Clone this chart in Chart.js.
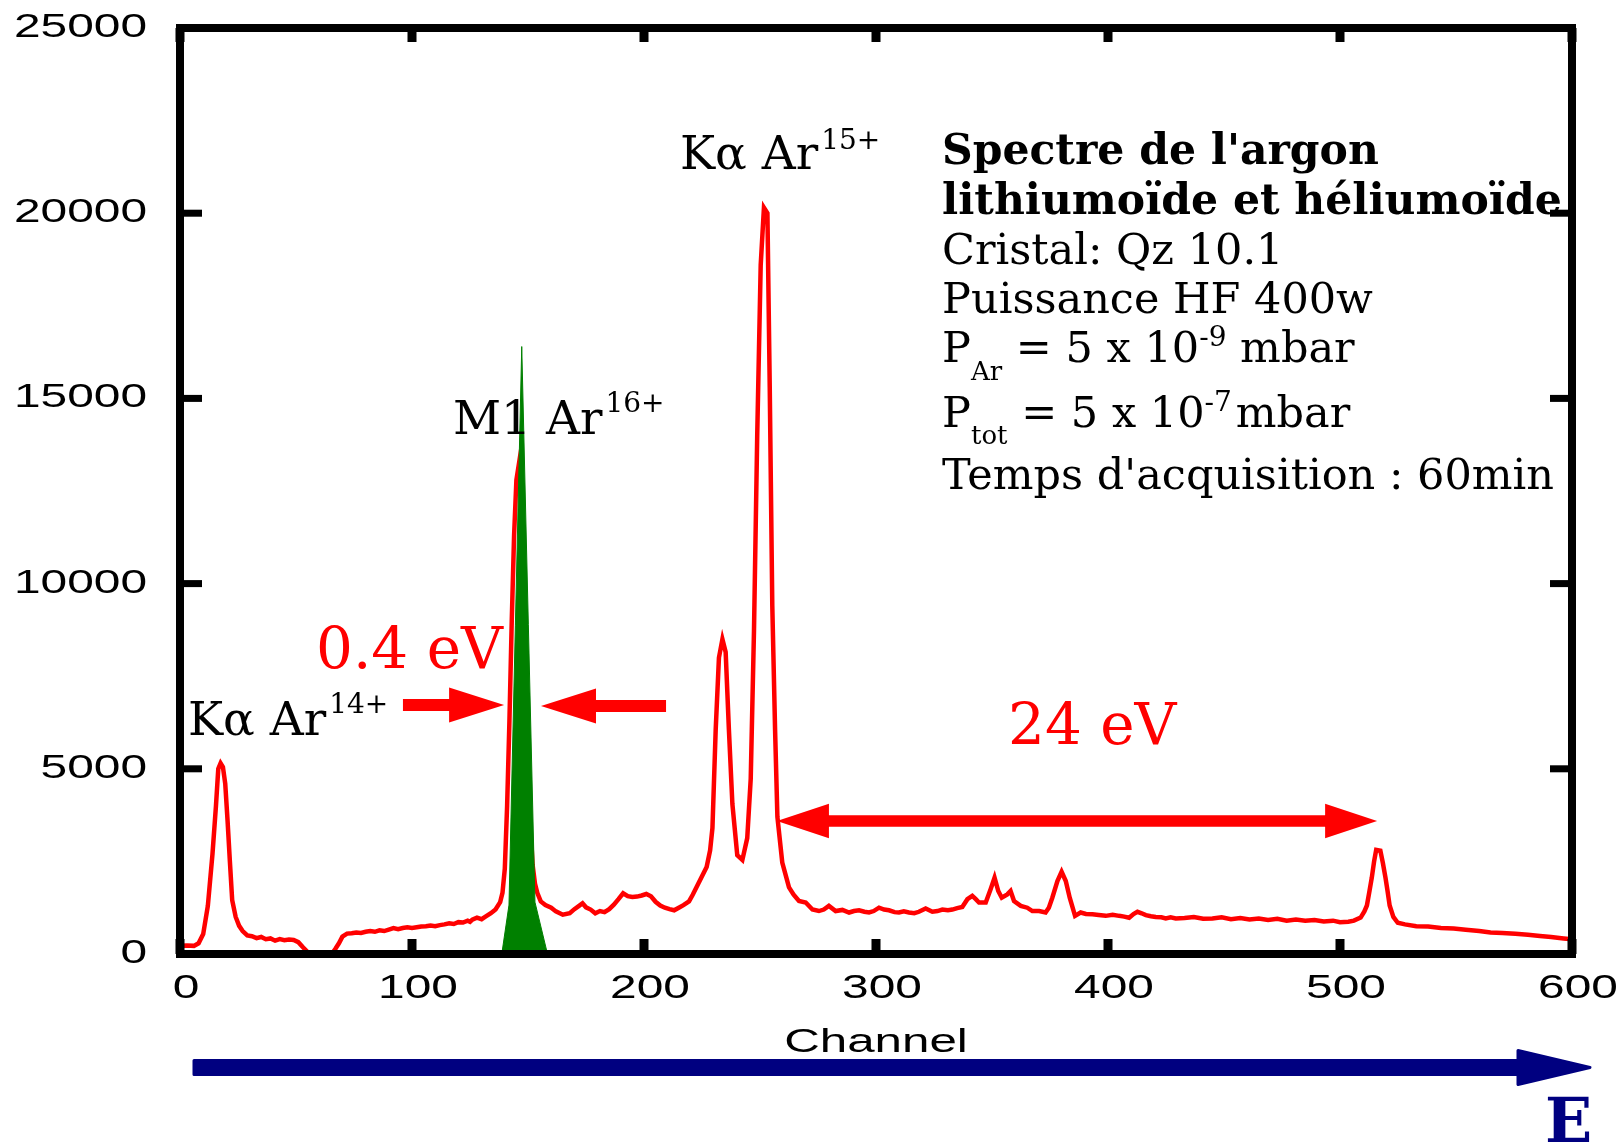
<!DOCTYPE html>
<html>
<head>
<meta charset="utf-8">
<title>Spectre de l'argon</title>
<script src="https://cdn.jsdelivr.net/npm/chart.js@4.4.1/dist/chart.umd.min.js"></script>
<style>
  html, body { margin: 0; padding: 0; background: #fff; }
</style>
</head>
<body>
<canvas id="spectre" width="1623" height="1143"></canvas>
<script>
// measured spectrum (channel, counts)
const channels = [
  0, 3, 6, 8, 10, 12, 14, 15.5, 16.5, 17.5, 18.5, 19.5, 20.5, 21.5, 22.5, 24, 25.5, 27, 29, 31,
  33, 35, 37, 39, 41, 43, 45, 47, 49, 51, 53, 55, 57, 60, 63, 65, 67, 68.5, 70, 72,
  74, 76, 78, 80, 82, 84, 86, 88, 90, 92, 94, 96, 98, 100, 102, 104, 106, 108, 110, 112,
  114, 116, 118, 120, 122, 124, 125, 126, 128, 130, 132, 134, 136, 138, 139, 140, 141, 142, 143, 144,
  145, 146, 147, 148, 149, 150, 151, 152, 153, 154, 155.5, 157.5, 160, 162, 165, 168, 170, 172, 173.5, 175,
  177, 179, 181, 183, 185, 187, 189, 191, 193, 195, 197, 199, 201, 203, 205, 207, 209, 211, 213, 215,
  217, 219.4, 221, 223, 225, 227, 228.5, 229.5, 230.9, 232.3, 233.8, 235.2, 236.6, 238.1, 240.2, 242.4, 244.5, 246, 247.4, 248.8,
  250.3, 251.7, 253.2, 254.2, 255.3, 256.5, 257.5, 259.6, 262.5, 264.5, 266.8, 269.7, 272.6, 275.4, 277.5, 279.7, 282.6, 285.5, 288.4, 290.5,
  292.7, 295, 297, 299, 301.3, 303.5, 305.6, 308, 309.9, 312, 314.2, 316.5, 318.5, 321.4, 324.3, 326.5, 328.6, 331, 332.9, 335,
  337.2, 339.4, 341.5, 343, 344.4, 347.3, 349.4, 351.1, 352.7, 354.2, 356.6, 358, 359.5, 362.4, 365.2, 367.4, 370.3, 373.1, 374.5, 376,
  378.2, 380, 381.8, 383.5, 385.8, 388.2, 390.5, 393.3, 396, 399, 402, 404.8, 407, 409.1, 411, 412.7, 414.5, 416.3, 418.5, 420.6,
  423, 424.9, 427, 429.2, 433, 437, 441, 445, 449, 453, 457, 461, 465, 469, 473, 477, 481, 485, 489, 493,
  497, 500, 503.6, 506, 508.9, 510.5, 511.6, 512.7, 513.7, 514.7, 515.6, 517.4, 518.5, 519.6, 520.5, 521.4, 523, 524.9, 528, 532.9,
  538, 543.5, 549, 554.2, 560, 564.9, 570, 575.6, 581, 586.2, 591, 596.4, 600
];
const counts = [
  220, 230, 220, 290, 540, 1300, 2700, 4000, 5000, 5150, 5050, 4600, 3600, 2500, 1450, 1000, 760, 620, 500, 480,
  430, 460, 400, 420, 360, 400, 370, 390, 380, 320, 180, 50, -80, -250, -200, -40, 140, 290, 470, 550,
  560, 580, 570, 600, 620, 600, 640, 620, 660, 700, 670, 700, 720, 700, 720, 740, 750, 770, 750, 780,
  800, 830, 810, 860, 850, 900, 870, 930, 980, 940, 1020, 1100, 1200, 1400, 1650, 2300, 4000, 6300, 9000, 11300,
  12800, 13200, 12700, 10500, 8000, 6000, 3500, 2400, 1900, 1650, 1420, 1320, 1250, 1150, 1060, 1100, 1210, 1300, 1370, 1260,
  1200, 1100, 1160, 1130, 1210, 1330, 1480, 1640, 1560, 1540, 1550, 1580, 1620, 1560, 1410, 1310, 1250, 1210, 1180, 1250,
  1320, 1420, 1600, 1850, 2100, 2350, 2800, 3400, 6050, 8000, 8500, 8150, 6050, 4050, 2670, 2540, 3130, 4730, 8700, 14000,
  18600, 20150, 20000, 15300, 9400, 6050, 3700, 2470, 1800, 1600, 1430, 1390, 1200, 1160, 1200, 1300, 1160, 1190, 1120, 1160,
  1180, 1140, 1120, 1160, 1250, 1200, 1180, 1130, 1120, 1150, 1120, 1100, 1140, 1230, 1140, 1160, 1200, 1180, 1200, 1240,
  1270, 1480, 1570, 1480, 1390, 1390, 1750, 2060, 1700, 1520, 1610, 1700, 1430, 1300, 1250, 1160, 1160, 1120, 1250, 1520,
  1970, 2220, 1970, 1520, 1030, 1120, 1080, 1070, 1050, 1030, 1060, 1030, 1010, 980, 1080, 1140, 1100, 1050, 1020, 1000,
  990, 960, 990, 960, 970, 1000, 950, 960, 990, 940, 970, 930, 960, 920, 950, 900, 930, 900, 920, 880,
  900, 860, 870, 900, 984, 1150, 1310, 1700, 2060, 2500, 2810, 2790, 2450, 2060, 1700, 1310, 1000, 843, 800, 750,
  740, 703, 690, 656, 620, 581, 570, 544, 520, 487, 460, 421, 400
];

// reference line profile (green)
const refChannels = [138.7, 141.8, 147.3, 153, 158.4];
const refCounts = [0, 1320, 16400, 1400, 0];

const xTicks = [0, 100, 200, 300, 400, 500, 600];
const yTicks = [0, 5000, 10000, 15000, 20000, 25000];

const SERIF = '"DejaVu Serif", serif';
const SANS = '"Liberation Sans", Arial, sans-serif';

// gnuplot-like wide sans labels
function wide(ctx, str, x, y, align) {
  ctx.save();
  ctx.translate(x, y);
  ctx.scale(1.45, 1);
  ctx.textAlign = align;
  ctx.fillText(str, 0, 0);
  ctx.restore();
}

// text runs with sub/superscripts
function runs(ctx, x, y, parts) {
  parts.forEach(([txt, font, dy = 0, gap = 0]) => {
    ctx.font = font;
    x += gap;
    ctx.fillText(txt, x, y + dy);
    x += ctx.measureText(txt).width;
  });
}

function arrow(ctx, tail, tip, y, shaftHalf, headLen, headHalf, both) {
  const dir = Math.sign(tip - tail);
  const base = tip - dir * headLen;
  const start = both ? tail + dir * headLen : tail;
  ctx.beginPath();
  ctx.moveTo(start, y - shaftHalf);
  ctx.lineTo(base, y - shaftHalf);
  ctx.lineTo(base, y - headHalf);
  ctx.lineTo(tip, y);
  ctx.lineTo(base, y + headHalf);
  ctx.lineTo(base, y + shaftHalf);
  ctx.lineTo(start, y + shaftHalf);
  if (both) {
    ctx.lineTo(start, y + headHalf);
    ctx.lineTo(tail, y);
    ctx.lineTo(start, y - headHalf);
  }
  ctx.closePath();
  ctx.fill();
}

const framePlugin = {
  id: 'frame',
  afterDatasetsDraw(chart) {
    const { ctx, chartArea: a, scales: { x, y } } = chart;
    ctx.save();
    ctx.strokeStyle = '#000';
    ctx.lineWidth = 8;
    ctx.strokeRect(a.left, a.top, a.right - a.left, a.bottom - a.top);
    ctx.fillStyle = '#000';
    x.ticks.forEach(t => {
      const px = x.getPixelForValue(t.value);
      ctx.fillRect(px - 4.5, a.bottom - 15, 9, 15);
      ctx.fillRect(px - 4.5, a.top, 9, 14);
    });
    y.ticks.forEach(t => {
      const py = y.getPixelForValue(t.value);
      ctx.fillRect(a.left, py - 3.5, 22, 7);
      ctx.fillRect(a.right - 22, py - 3.5, 22, 7);
    });
    ctx.font = '33px ' + SANS;
    ctx.textBaseline = 'middle';
    x.ticks.forEach(t => wide(ctx, String(t.value), x.getPixelForValue(t.value) + 6, 989, 'center'));
    y.ticks.forEach(t => wide(ctx, String(t.value), 147, y.getPixelForValue(t.value), 'right'));
    ctx.textBaseline = 'alphabetic';
    ctx.font = '34px ' + SANS;
    wide(ctx, 'Channel', (a.left + a.right) / 2, 1052, 'center');
    ctx.restore();
  },
  afterDraw(chart) {
    const { ctx, scales: { x, y } } = chart;
    ctx.save();
    ctx.textBaseline = 'alphabetic';
    ctx.textAlign = 'left';

    // peak labels
    ctx.fillStyle = '#000';
    const big = '47px ' + SERIF, sup = '28px ' + SERIF;
    runs(ctx, 188, 735, [['Kα Ar', big], ['14+', sup, -22, 3]]);
    runs(ctx, 680, 169, [['Kα Ar', big], ['15+', sup, -20, 3]]);
    runs(ctx, 453, 433.5, [['M1 Ar', big], ['16+', sup, -21.5, 3]]);

    // info block
    const f = '43px ' + SERIF, fb = 'bold 42.5px ' + SERIF;
    const sub = '26px ' + SERIF, sp = '28px ' + SERIF;
    runs(ctx, 942, 164, [["Spectre de l'argon", fb]]);
    runs(ctx, 942, 214, [['lithiumoïde et héliumoïde', fb]]);
    runs(ctx, 942, 264, [['Cristal: Qz 10.1', f]]);
    runs(ctx, 942, 313, [['Puissance HF 400w', f]]);
    runs(ctx, 942, 362, [['P', f], ['Ar', sub, 18], [' = 5 x 10', f], ['-9', sp, -16], [' mbar', f]]);
    runs(ctx, 942, 426.5, [['P', f], ['tot', sub, 17.5], [' = 5 x 10', f], ['-7', sp, -15.5], ['mbar', f, 0, 4]]);
    runs(ctx, 942, 488.5, [["Temps d'acquisition : 60min", f]]);

    // resolution annotations
    ctx.fillStyle = '#ff0000';
    ctx.font = '58px ' + SERIF;
    ctx.fillText('0.4 eV', 316, 667.5);
    ctx.fillText('24 eV', 1008, 743.5);
    const ay = y.getPixelForValue(6720);
    arrow(ctx, x.getPixelForValue(96.1), x.getPixelForValue(139.7), ay, 6, 55, 17.5, false);
    arrow(ctx, x.getPixelForValue(209.5), x.getPixelForValue(155.6), ay + 1, 6, 55, 17.5, false);
    arrow(ctx, x.getPixelForValue(257.3), x.getPixelForValue(516), y.getPixelForValue(3590), 5.8, 52, 17.3, true);

    // energy axis
    ctx.fillStyle = '#000080';
    ctx.strokeStyle = '#000080';
    ctx.lineJoin = 'round';
    ctx.lineWidth = 3;
    const ey = 1067.5;
    ctx.beginPath();
    ctx.moveTo(194, ey - 7);
    ctx.lineTo(1518, ey - 7);
    ctx.lineTo(1518, ey - 17);
    ctx.lineTo(1590, ey);
    ctx.lineTo(1518, ey + 17);
    ctx.lineTo(1518, ey + 7);
    ctx.lineTo(194, ey + 7);
    ctx.closePath();
    ctx.fill();
    ctx.stroke();
    ctx.font = 'bold 62px ' + SERIF;
    ctx.fillText('E', 1545, 1142);
    ctx.restore();
  }
};

new Chart(document.getElementById('spectre'), {
  type: 'line',
  data: {
    datasets: [
      {
        label: 'référence',
        data: refChannels.map((c, i) => ({ x: c, y: refCounts[i] })),
        borderColor: '#008000',
        backgroundColor: '#008000',
        borderWidth: 1,
        fill: 'origin',
        pointRadius: 0,
        tension: 0
      },
      {
        label: 'Spectre',
        data: channels.map((c, i) => ({ x: c, y: counts[i] })),
        borderColor: '#ff0000',
        borderWidth: 4.5,
        fill: false,
        pointRadius: 0,
        tension: 0
      }
    ]
  },
  options: {
    responsive: false,
    devicePixelRatio: 1,
    animation: false,
    layout: { padding: { left: 180, top: 28, right: 51, bottom: 189 } },
    plugins: { legend: { display: false }, tooltip: { enabled: false } },
    scales: {
      x: {
        type: 'linear', min: 0, max: 600, display: false,
        afterBuildTicks: s => { s.ticks = xTicks.map(v => ({ value: v })); }
      },
      y: {
        type: 'linear', min: 0, max: 25000, display: false,
        afterBuildTicks: s => { s.ticks = yTicks.map(v => ({ value: v })); }
      }
    }
  },
  plugins: [framePlugin]
});
</script>
</body>
</html>
